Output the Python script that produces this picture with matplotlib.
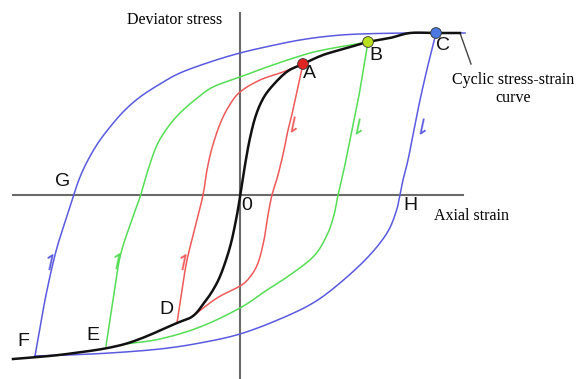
import matplotlib
matplotlib.use("Agg")
import matplotlib.pyplot as plt
import numpy as np

# curves traced in picture units (x right, y down)
black_x = [13, 67, 125, 177, 193, 204, 213, 221, 230, 236, 240, 245, 250, 256, 264, 275, 288, 303, 323, 347, 368, 390, 410, 436, 460]
black_y = [359, 354, 344, 323, 316, 303, 290, 274, 247, 220, 197, 165, 138, 115, 97, 83, 71, 64, 55, 48, 42, 38, 33, 33, 33]

red_down_x = [303, 298, 293, 288, 284, 278, 272, 268, 264, 258, 250, 240, 217, 193]
red_down_y = [64, 87, 110, 130, 150, 175, 195, 215, 240, 263, 277, 286, 298, 316]
red_up_x = [177, 182, 187, 195, 203, 207, 212, 220, 229, 240, 260, 283, 303]
red_up_y = [323, 290, 260, 228, 195, 170, 148, 124, 106, 92, 80, 72, 64]

green_down_x = [368, 364, 360, 355, 350, 346, 342, 338, 334, 327, 314, 290, 267, 240, 200, 160, 125]
green_down_y = [42, 66, 90, 115, 140, 160, 178, 195, 215, 235, 256, 275, 290, 308, 327, 339, 344]
green_up_x = [106, 113, 120, 130, 140, 148, 157, 168, 180, 196, 213, 240, 267, 300, 323, 368]
green_up_y = [346, 300, 257, 225, 197, 170, 145, 127, 113, 99, 87, 77, 67, 56, 50, 42]

blue_down_x = [436, 428, 420, 414, 408, 403, 400, 396, 387, 368, 340, 313, 280, 240, 200, 160, 110, 67, 35]
blue_down_y = [33, 65, 100, 130, 160, 180, 195, 212, 233, 257, 283, 303, 319, 334, 343, 349, 353, 355, 356]
blue_up_x = [35, 45, 55, 64, 73, 80, 88, 98, 110, 124, 140, 160, 180, 210, 240, 270, 300, 330, 360, 410, 465]
blue_up_y = [356, 300, 255, 225, 197, 177, 160, 143, 127, 111, 97, 84, 73, 62, 53, 46, 40, 36, 34, 33, 33]

points = ["A", "B", "C"]
point_x = [303, 368, 436]
point_y = [64, 42, 33]
point_colors = ["#e02424", "#b8e01c", "#4a78e0"]

letters = ["A", "B", "C", "G", "H", "0", "D", "E", "F"]
letter_x = [309, 376, 443, 63, 410, 247, 166, 93, 23]
letter_y = [73, 55, 45, 182, 205, 206, 310, 335, 342]

# direction marks on the branches
mark_x = [292, 183, 357, 117, 421, 50]
mark_y = [128, 265, 130, 264, 130, 265]
mark_up = [False, True, False, True, False, True]
mark_col = ["#ee5a5a", "#ee5a5a", "#55dd55", "#55dd55", "#5a5ae0", "#5a5ae0"]

RED = "#ee5a5a"
GREEN = "#55dd55"
BLUE = "#5a5ae0"


def smooth(xs, ys, n=12):
    # catmull-rom through the traced points, just for a rounder line
    p = np.column_stack([xs, ys]).astype(float)
    p = np.vstack([p[0], p, p[-1]])
    out = []
    t = np.linspace(0, 1, n, endpoint=False)[:, None]
    for i in range(1, len(p) - 2):
        p0, p1, p2, p3 = p[i - 1], p[i], p[i + 1], p[i + 2]
        seg = 0.5 * ((2 * p1) + (-p0 + p2) * t + (2 * p0 - 5 * p1 + 4 * p2 - p3) * t ** 2
                     + (-p0 + 3 * p1 - 3 * p2 + p3) * t ** 3)
        out.append(seg)
    out.append(p[-2][None, :])
    out = np.vstack(out)
    return out[:, 0], out[:, 1]


fig = plt.figure(figsize=(5.82, 3.79), dpi=100)
ax = fig.add_axes([0, 0, 1, 1])
ax.set_xlim(0, 582)
ax.set_ylim(379, 0)
ax.axis("off")

# axes of the diagram
ax.plot([13, 463], [195, 195], color="#6a6a6a", lw=1.5, zorder=1)
ax.plot([240, 240], [13, 379], color="#6a6a6a", lw=1.5, zorder=1)

for xs, ys, c in [(blue_up_x, blue_up_y, BLUE), (blue_down_x, blue_down_y, BLUE),
                  (green_up_x, green_up_y, GREEN), (green_down_x, green_down_y, GREEN),
                  (red_up_x, red_up_y, RED), (red_down_x, red_down_y, RED)]:
    sx, sy = smooth(xs, ys)
    ax.plot(sx, sy, color=c, lw=1.1, zorder=2)

bx, by = smooth(black_x, black_y)
ax.plot(bx, by, color="#111111", lw=1.8, zorder=3)

ax.scatter(point_x, point_y, s=60, c=point_colors, edgecolors="#333333", linewidths=0.6, zorder=5)

for t, x, y in zip(letters, letter_x, letter_y):
    ax.text(x, y, t, fontsize=14, family="Liberation Sans", ha="center", va="center", color="#111111")

for x, y, up, c in zip(mark_x, mark_y, mark_up, mark_col):
    ax.text(x, y, "\u21bf" if up else "\u21c2", fontsize=16, color=c, rotation=-12,
            ha="center", va="center", family="DejaVu Sans")

# call-out for the cyclic curve
ax.plot([460, 471], [33, 64], color="#444444", lw=1.0)

serif = "Liberation Serif"
ax.text(175, 20, "Deviator stress", fontsize=11.5, family=serif, ha="center", va="center")
ax.text(472, 216, "Axial strain", fontsize=11.5, family=serif, ha="center", va="center")
ax.text(513, 80, "Cyclic stress-strain", fontsize=11.5, family=serif, ha="center", va="center")
ax.text(513, 98, "curve", fontsize=11.5, family=serif, ha="center", va="center")

fig.savefig("out.png", dpi=100)
